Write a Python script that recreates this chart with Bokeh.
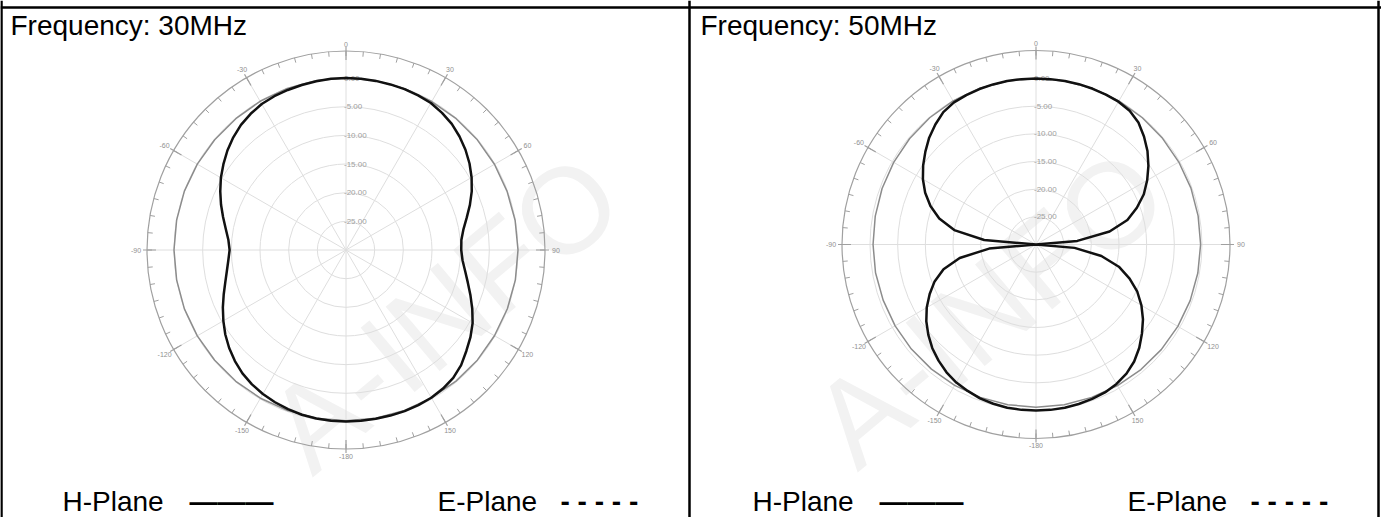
import numpy as np
from bokeh.plotting import figure
from bokeh.models import Range1d, Span
from bokeh.embed import file_html
from bokeh.resources import INLINE
from bokeh.core.properties import value

# ---------------- data ----------------
ANGLES_H = [0, 5, 10, 15, 20, 25, 30, 35, 40, 45, 50, 55, 60, 65, 70, 75, 80, 85,
            90, 95, 100, 105, 110, 115, 120, 125, 130, 135, 140, 145, 150, 155, 160, 165, 170, 175,
            180, 185, 190, 195, 200, 205, 210, 215, 220, 225, 230, 235, 240, 245, 250, 255, 260, 265,
            270, 275, 280, 285, 290, 295, 300, 305, 310, 315, 320, 325, 330, 335, 340, 345, 350, 355]

H_30MHZ = [0.0, 0.0, -0.05, -0.1, -0.15, -0.25, -0.4, -0.8, -1.3, -2.0, -2.8, -3.7, -4.7, -5.8, -7.0, -8.2, -9.2, -9.8,
           -9.9, -9.6, -8.9, -8.0, -6.9, -5.7, -4.5, -3.5, -2.6, -1.6, -0.9, -0.5, -0.25, -0.15, -0.1, -0.1, -0.1, -0.1,
           -0.1, -0.1, -0.15, -0.25, -0.45, -0.7, -1.0, -1.4, -1.9, -2.6, -3.4, -4.3, -5.3, -6.3, -7.3, -8.2, -8.9, -9.4,
           -9.7, -9.4, -8.7, -7.8, -6.8, -5.8, -4.8, -3.9, -3.0, -2.2, -1.5, -1.0, -0.6, -0.4, -0.3, -0.2, -0.1, 0.0]

H_50MHZ = [0.0, 0.0, 0.0, 0.0, -0.05, -0.1, -0.2, -0.5, -1.2, -2.4, -3.7, -5.2, -6.8, -8.5, -10.6, -12.9, -16.5, -22.5,
           -30.0, -23.0, -18.0, -14.5, -12.0, -9.8, -8.0, -6.4, -5.0, -3.6, -2.4, -1.5, -0.9, -0.5, -0.3, -0.15, -0.05, 0.0,
           0.0, 0.0, -0.05, -0.2, -0.4, -0.8, -1.2, -1.8, -2.6, -3.5, -4.6, -5.8, -7.2, -8.8, -10.5, -12.7, -16.0, -21.5,
           -30.0, -20.6, -15.0, -11.9, -9.7, -7.9, -6.4, -5.1, -3.9, -2.7, -1.7, -0.8, -0.35, -0.2, -0.1, -0.05, 0.0, 0.0]

ANGLES_E = [0, 10, 20, 30, 40, 50, 60, 70, 80, 90, 100, 110, 120, 130, 140, 150, 160, 170,
            180, 190, 200, 210, 220, 230, 240, 250, 260, 270, 280, 290, 300, 310, 320, 330, 340, 350]

E_30MHZ = [0.0, 0.0, -0.05, -0.1, -0.1, -0.1, -0.1, -0.1, -0.05, 0.0, 0.0, -0.05, -0.1, -0.1, -0.15, -0.2, -0.2, -0.2,
           -0.2, -0.2, -0.2, -0.15, -0.1, -0.1, -0.05, 0.0, 0.0, 0.0, 0.0, 0.0, -0.05, -0.1, -0.1, -0.05, 0.0, 0.0]

E_50MHZ = [0.0, 0.0, 0.0, -0.05, -0.1, -0.15, -0.2, -0.2, -0.25, -0.25, -0.3, -0.35, -0.4, -0.45, -0.5, -0.55, -0.6, -0.6,
           -0.6, -0.6, -0.6, -0.6, -0.6, -0.6, -0.6, -0.6, -0.55, -0.55, -0.5, -0.4, -0.3, -0.2, -0.1, -0.05, 0.0, 0.0]

ANGLE_TICKS = [0, 30, 60, 90, 120, 150, 180, 210, 240, 270, 300, 330]
ANGLE_LABELS = ["0", "30", "60", "90", "120", "150", "-180", "-150", "-120", "-90", "-60", "-30"]
DB_RINGS = [0, -5, -10, -15, -20, -25]
DB_LABELS = ["0.00", "-5.00", "-10.00", "-15.00", "-20.00", "-25.00"]
DB_MIN = -30.0

TITLES = ["Frequency: 30MHz", "Frequency: 50MHz"]
LEGEND_TEXT = ["H-Plane", "\u2014\u2014\u2014", "E-Plane", "- - - - -"]
WATERMARK = "A-INFO"

FONT = value("Liberation Sans")

# ---------------- figure ----------------
W, H = 1381, 517
p = figure(width=W, height=H, x_range=Range1d(0, W), y_range=Range1d(H, 0),
           output_backend="svg", toolbar_location=None, min_border=0)
p.axis.visible = False
p.grid.visible = False
p.outline_line_color = None
p.background_fill_color = "white"
p.border_fill_color = "white"

# faint watermark
p.text(x=[285, 830], y=[445, 440], text=[WATERMARK] * 2,
       angle=np.deg2rad(40), text_font=FONT, text_font_size="122px",
       text_color="#f2f2f2", text_align="left", text_baseline="middle")

# table borders
p.add_layout(Span(location=7, dimension="width", line_color="black", line_width=2.5))
p.add_layout(Span(location=1, dimension="height", line_color="black", line_width=2.5))
p.add_layout(Span(location=689, dimension="height", line_color="black", line_width=2.5))
p.add_layout(Span(location=1378, dimension="height", line_color="black", line_width=2.5))


def polar_xy(cx, cy, ang_deg, r):
    th = np.deg2rad(np.asarray(ang_deg, float))
    r = np.asarray(r, float)
    return cx + r * np.sin(th), cy - r * np.cos(th)


def draw_panel(cx, cy, r0, R, h_db, e_db, x_off, title):
    def rad(db):
        return r0 * (np.asarray(db, float) - DB_MIN) / (-DB_MIN)

    rr = rad(DB_RINGS)
    p.circle(x=[cx] * len(rr), y=[cy] * len(rr), radius=rr, fill_color=None,
             line_color="#dedede", line_width=1)
    x1, y1 = polar_xy(cx, cy, ANGLE_TICKS, [R] * len(ANGLE_TICKS))
    p.segment(x0=[cx] * len(ANGLE_TICKS), y0=[cy] * len(ANGLE_TICKS), x1=x1, y1=y1,
              line_color="#dedede", line_width=1)
    p.circle(x=[cx], y=[cy], radius=[R], fill_color=None, line_color="#a0a0a0", line_width=1.2)
    tk = np.arange(0, 360, 5)
    ax0, ay0 = polar_xy(cx, cy, tk, np.full(len(tk), R - 5))
    ax1, ay1 = polar_xy(cx, cy, tk, np.full(len(tk), R))
    p.segment(x0=ax0, y0=ay0, x1=ax1, y1=ay1, line_color="#a0a0a0", line_width=1)
    mx0, my0 = polar_xy(cx, cy, ANGLE_TICKS, [R - 9] * len(ANGLE_TICKS))
    mx1, my1 = polar_xy(cx, cy, ANGLE_TICKS, [R + 4] * len(ANGLE_TICKS))
    p.segment(x0=mx0, y0=my0, x1=mx1, y1=my1, line_color="#a0a0a0", line_width=1.2)
    sinabs = np.abs(np.sin(np.deg2rad(ANGLE_TICKS)))
    lx, ly = polar_xy(cx, cy, ANGLE_TICKS, R + 7 + 4 * sinabs)
    p.text(x=lx, y=ly, text=ANGLE_LABELS, text_font=FONT, text_font_size="7px",
           text_color="#909090", text_align="center", text_baseline="middle")
    p.text(x=[cx - 2] * len(rr), y=cy - rr, text=DB_LABELS, text_font=FONT,
           text_font_size="8px", text_color="#a0a0a0", text_align="left", text_baseline="middle")
    ex, ey = polar_xy(cx, cy, ANGLES_E + [ANGLES_E[0]], rad(e_db + [e_db[0]]))
    p.line(ex, ey, line_color="#8c8c8c", line_width=1.5)
    hx, hy = polar_xy(cx, cy, ANGLES_H + [ANGLES_H[0]], rad(h_db + [h_db[0]]))
    p.line(hx, hy, line_color="#111111", line_width=2.5, line_join="round")
    p.text(x=[x_off + 10], y=[25], text=[title], text_font=FONT, text_font_size="28px",
           text_color="black", text_align="left", text_baseline="middle")
    p.text(x=[x_off + 62, x_off + 437], y=[501, 501], text=[LEGEND_TEXT[0], LEGEND_TEXT[2]],
           text_font=FONT, text_font_size="28px", text_color="black",
           text_align="left", text_baseline="middle")
    p.text(x=[x_off + 189, x_off + 560], y=[501, 501], text=[LEGEND_TEXT[1], LEGEND_TEXT[3]],
           text_font=FONT, text_font_size="28px", text_font_style="bold", text_color="black",
           text_align="left", text_baseline="middle")


draw_panel(345.5, 249.5, 172.0, 199.0, H_30MHZ, E_30MHZ, 0, TITLES[0])
draw_panel(1035.5, 244.0, 166.0, 194.0, H_50MHZ, E_50MHZ, 690, TITLES[1])

open("out.html", "w").write(file_html(p, INLINE))
